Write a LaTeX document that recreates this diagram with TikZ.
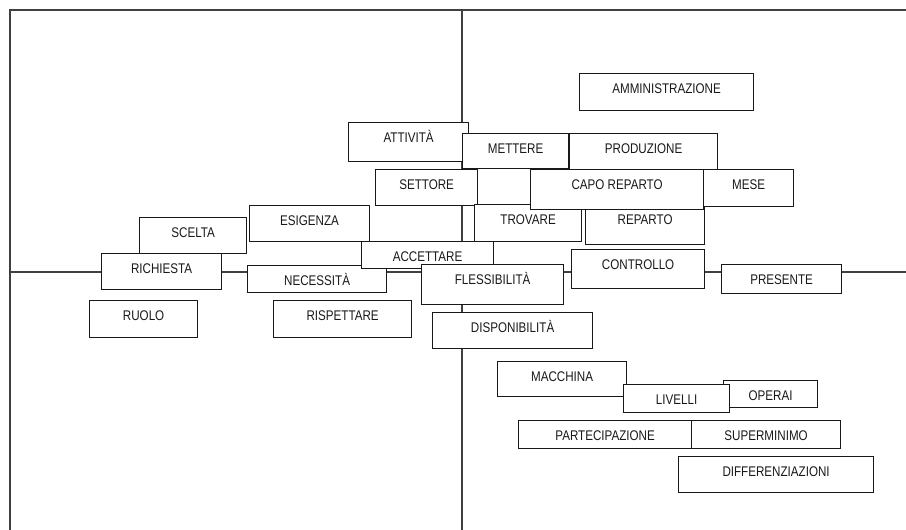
\documentclass[tikz,border=0pt]{standalone}
\usepackage{fontspec}
\setmainfont{Liberation Sans}[FakeStretch=0.83]
\tikzset{
  wordbox/.style={draw=black!90, line width=1.2pt, fill=white, anchor=north west,
    inner sep=0pt, text height=19.5pt, text=black!90,
    font=\fontsize{14pt}{16pt}\selectfont},
  axisline/.style={draw=black!75, line width=1.2pt}
}
% \wbox{name}{left}{top}{right}{bottom}{label}
\newcommand\wbox[6]{%
  \pgfmathsetmacro\boxw{#4-#2}%
  \pgfmathsetmacro\boxd{#5-#3-19.5}%
  \node[wordbox, minimum width=\boxw pt, text depth=\boxd pt] (#1) at (#2,#3) {#6};}
\begin{document}
\begin{tikzpicture}[x=1pt, y=-1pt]
  \useasboundingbox (0,0) rectangle (906,530);
  % frame and axes
  \coordinate (frameTL) at (10,10);
  \coordinate (frameTR) at (906,10);
  \coordinate (frameBL) at (10,530);
  \coordinate (axisTop) at (462,10);
  \coordinate (axisBottom) at (462,530);
  \coordinate (axisLeft) at (10,272);
  \coordinate (axisRight) at (906,272);
  \draw[axisline] (frameTR) -- (frameTL) -- (frameBL);
  \draw[axisline] (axisTop) -- (axisBottom);
  \draw[axisline] (axisLeft) -- (axisRight);
  % words
  \wbox{amministrazione}{579}{73}{753}{110}{AMMINISTRAZIONE}
  \wbox{attivita}{348}{122}{468}{161}{ATTIVITÀ}
  \wbox{mettere}{462}{133}{568}{168}{METTERE}
  \wbox{produzione}{569}{133}{717}{169}{PRODUZIONE}
  \wbox{settore}{375}{169}{477}{205}{SETTORE}
  \wbox{trovare}{474}{204}{581}{241}{TROVARE}
  \wbox{reparto}{585}{204}{704}{244}{REPARTO}
  \wbox{caporeparto}{530}{169}{703}{209}{CAPO REPARTO}
  \wbox{mese}{703}{169}{793}{206}{MESE}
  \wbox{scelta}{139}{217}{246}{253}{SCELTA}
  \wbox{esigenza}{249}{205}{369}{241}{ESIGENZA}
  \wbox{richiesta}{101}{253}{221}{289}{RICHIESTA}
  \wbox{necessita}{247}{265}{386}{292}{NECESSITÀ}
  \wbox{accettare}{361}{241}{493}{268}{ACCETTARE}
  \wbox{flessibilita}{421}{264}{563}{304}{FLESSIBILITÀ}
  \wbox{controllo}{571}{249}{704}{288}{CONTROLLO}
  \wbox{presente}{721}{264}{841}{293}{PRESENTE}
  \wbox{ruolo}{89}{300}{197}{337}{RUOLO}
  \wbox{rispettare}{273}{300}{411}{337}{RISPETTARE}
  \wbox{disponibilita}{432}{312}{592}{348}{DISPONIBILITÀ}
  \wbox{macchina}{497}{361}{626}{396}{MACCHINA}
  \wbox{operai}{723}{380}{817}{407}{OPERAI}
  \wbox{livelli}{623}{384}{729}{412}{LIVELLI}
  \wbox{partecipazione}{518}{420}{691}{448}{PARTECIPAZIONE}
  \wbox{superminimo}{691}{420}{840}{448}{SUPERMINIMO}
  \wbox{differenziazioni}{678}{456}{873}{492}{DIFFERENZIAZIONI}
\end{tikzpicture}
\end{document}
